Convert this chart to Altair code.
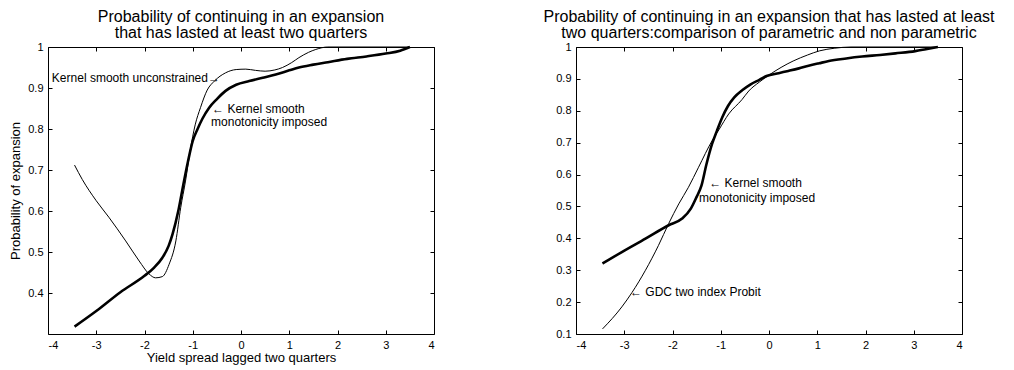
import altair as alt
import pandas as pd

FONT = "Liberation Sans"

# ---------------- data ----------------
x_ticks = [-4, -3, -2, -1, 0, 1, 2, 3, 4]
left_y_ticks = [0.4, 0.5, 0.6, 0.7, 0.8, 0.9, 1.0]
right_y_ticks = [0.1, 0.2, 0.3, 0.4, 0.5, 0.6, 0.7, 0.8, 0.9, 1.0]

# Left panel: kernel smooth, monotonicity imposed (thick)
left_mono_x = [-3.45, -3.0, -2.5, -2.0, -1.8, -1.63, -1.5, -1.42, -1.3, -1.22, -1.1, -1.0,
               -0.9, -0.8, -0.66, -0.5, -0.32, -0.1, 0.17, 0.45, 0.72, 1.0, 1.2, 1.5, 1.8,
               2.2, 2.6, 3.0, 3.3, 3.5]
left_mono_y = [0.318, 0.356, 0.402, 0.442, 0.462, 0.486, 0.515, 0.543, 0.6, 0.649, 0.72, 0.771,
               0.8, 0.825, 0.852, 0.873, 0.893, 0.908, 0.917, 0.925, 0.933, 0.943, 0.95, 0.957,
               0.963, 0.971, 0.977, 0.984, 0.991, 1.0]

# Left panel: kernel smooth unconstrained (thin)
left_unc_x = [-3.45, -3.29, -3.0, -2.74, -2.39, -2.11, -1.91, -1.77, -1.63, -1.49, -1.35, -1.25,
              -1.15, -1.05, -0.95, -0.84, -0.7, -0.55, -0.32, -0.1, 0.1, 0.3, 0.5, 0.7, 0.86,
              1.05, 1.2, 1.4, 1.55, 1.8, 3.5]
left_unc_y = [0.712, 0.677, 0.625, 0.585, 0.527, 0.478, 0.447, 0.437, 0.44, 0.47, 0.527, 0.608,
              0.673, 0.75, 0.81, 0.852, 0.895, 0.917, 0.937, 0.945, 0.946, 0.943, 0.941, 0.944,
              0.95, 0.962, 0.974, 0.987, 0.994, 1.0, 1.0]

# Right panel: kernel smooth, monotonicity imposed (thick)
right_mono_x = [-3.45, -3.05, -2.56, -2.08, -1.8, -1.62, -1.5, -1.4, -1.3, -1.18, -1.08, -0.97,
                -0.85, -0.72, -0.55, -0.38, -0.2, -0.05, 0.2, 0.4, 0.62, 0.82, 1.04, 1.24, 1.6,
                1.93, 2.3, 2.62, 3.03, 3.25, 3.5]
right_mono_y = [0.321, 0.357, 0.399, 0.441, 0.462, 0.493, 0.53, 0.565, 0.63, 0.696, 0.737, 0.779,
                0.815, 0.842, 0.865, 0.883, 0.897, 0.909, 0.918, 0.925, 0.933, 0.941, 0.949, 0.956,
                0.964, 0.970, 0.975, 0.980, 0.987, 0.993, 1.0]

# Right panel: GDC two index Probit (thin)
right_probit_x = [-3.45, -3.05, -2.84, -2.56, -2.29, -2.08, -1.87, -1.67, -1.46, -1.18, -1.04,
                  -0.835, -0.56, -0.42, -0.2, 0.0, 0.25, 0.5, 0.8, 1.05, 1.35, 1.7, 3.5]
right_probit_y = [0.116, 0.185, 0.23, 0.30, 0.378, 0.446, 0.508, 0.56, 0.623, 0.706, 0.74,
                  0.79, 0.835, 0.862, 0.89, 0.912, 0.936, 0.956, 0.975, 0.988, 0.996, 1.0, 1.0]

left_ann_text = ["Kernel smooth unconstrained\u2192", "\u2190 Kernel smooth", "monotonicity imposed"]
left_ann_x = [-3.92, -0.60, -0.62]
left_ann_y = [0.924, 0.849, 0.817]

right_ann_text = ["\u2190 Kernel smooth", "monotonicity imposed", "\u2190 GDC two index Probit"]
right_ann_x = [-1.24, -1.45, -2.88]
right_ann_y = [0.572, 0.525, 0.231]

left_title = ["Probability of continuing in an expansion", "that has lasted at least two quarters"]
right_title = ["Probability of continuing in an expansion that has lasted at least",
               "two quarters:comparison of parametric and non parametric"]

W, H = 386, 287

XLAB = "datum.value + ''"
YLAB = "datum.value == 1 ? '1' : format(datum.value, '.1f')"


def panel(mono_x, mono_y, thin_x, thin_y, ydomain, yticks, ann_t, ann_x, ann_y, title,
          xtitle, ytitle):
    d_mono = pd.DataFrame({"x": mono_x, "y": mono_y})
    d_thin = pd.DataFrame({"x": thin_x, "y": thin_y})
    d_ann = pd.DataFrame({"x": ann_x, "y": ann_y, "t": ann_t})
    xs = alt.Scale(domain=[-4, 4], nice=False, zero=False)
    ys = alt.Scale(domain=ydomain, nice=False, zero=False)

    thick = alt.Chart(d_mono).mark_line(color="black", strokeWidth=2.6,
                                        interpolate="monotone").encode(
        x=alt.X("x:Q", scale=xs, axis=alt.Axis(orient="bottom", values=x_ticks, offset=-4,
                                              tickSize=4, domain=False, grid=False,
                                              labelExpr=XLAB, labelPadding=5, title=xtitle,
                                              titlePadding=1, titleFontWeight="normal",
                                              labelFontSize=11, titleFontSize=13,
                                              labelFont=FONT, titleFont=FONT,
                                              labelColor="black", titleColor="black",
                                              tickColor="black")),
        y=alt.Y("y:Q", scale=ys, axis=alt.Axis(orient="left", values=yticks, offset=-4,
                                              tickSize=4, domain=False, grid=False,
                                              labelExpr=YLAB, labelPadding=5, title=ytitle,
                                              titlePadding=5, titleFontWeight="normal",
                                              labelFontSize=11, titleFontSize=13,
                                              labelFont=FONT, titleFont=FONT,
                                              labelColor="black", titleColor="black",
                                              tickColor="black")),
        order="x:Q",
    )
    thin = alt.Chart(d_thin).mark_line(color="black", strokeWidth=1,
                                       interpolate="monotone").encode(
        x=alt.X("x:Q", scale=xs, axis=alt.Axis(orient="top", values=x_ticks, offset=-4,
                                              tickSize=4, domain=False, grid=False,
                                              labels=False, title=None, tickColor="black")),
        y=alt.Y("y:Q", scale=ys, axis=alt.Axis(orient="right", values=yticks, offset=-4,
                                              tickSize=4, domain=False, grid=False,
                                              labels=False, title=None, tickColor="black")),
        order="x:Q",
    )
    text = alt.Chart(d_ann).mark_text(align="left", baseline="middle", fontSize=12,
                                      font=FONT, color="black").encode(
        x=alt.X("x:Q", scale=xs, axis=None),
        y=alt.Y("y:Q", scale=ys, axis=None),
        text="t:N",
    )
    return alt.layer(thick, thin, text).properties(
        width=W, height=H,
        title=alt.TitleParams(text=title, fontSize=16, font=FONT, fontWeight="normal",
                              anchor="middle", frame="group", offset=0, lineHeight=16,
                              color="black"),
    )


left = panel(left_mono_x, left_mono_y, left_unc_x, left_unc_y, [0.3, 1.0], left_y_ticks,
             left_ann_text, left_ann_x, left_ann_y, left_title,
             "Yield spread lagged two quarters", "Probability of expansion")
right = panel(right_mono_x, right_mono_y, right_probit_x, right_probit_y, [0.1, 1.0],
              right_y_ticks, right_ann_text, right_ann_x, right_ann_y, right_title,
              None, None)

chart = alt.hconcat(left, right, spacing=108).properties(
    padding={"left": 1, "top": 0, "right": 0, "bottom": 0},
    background="white",
).configure_view(stroke="black", strokeWidth=1)

chart.save("out.html", embed_options={"renderer": "svg", "actions": False})
